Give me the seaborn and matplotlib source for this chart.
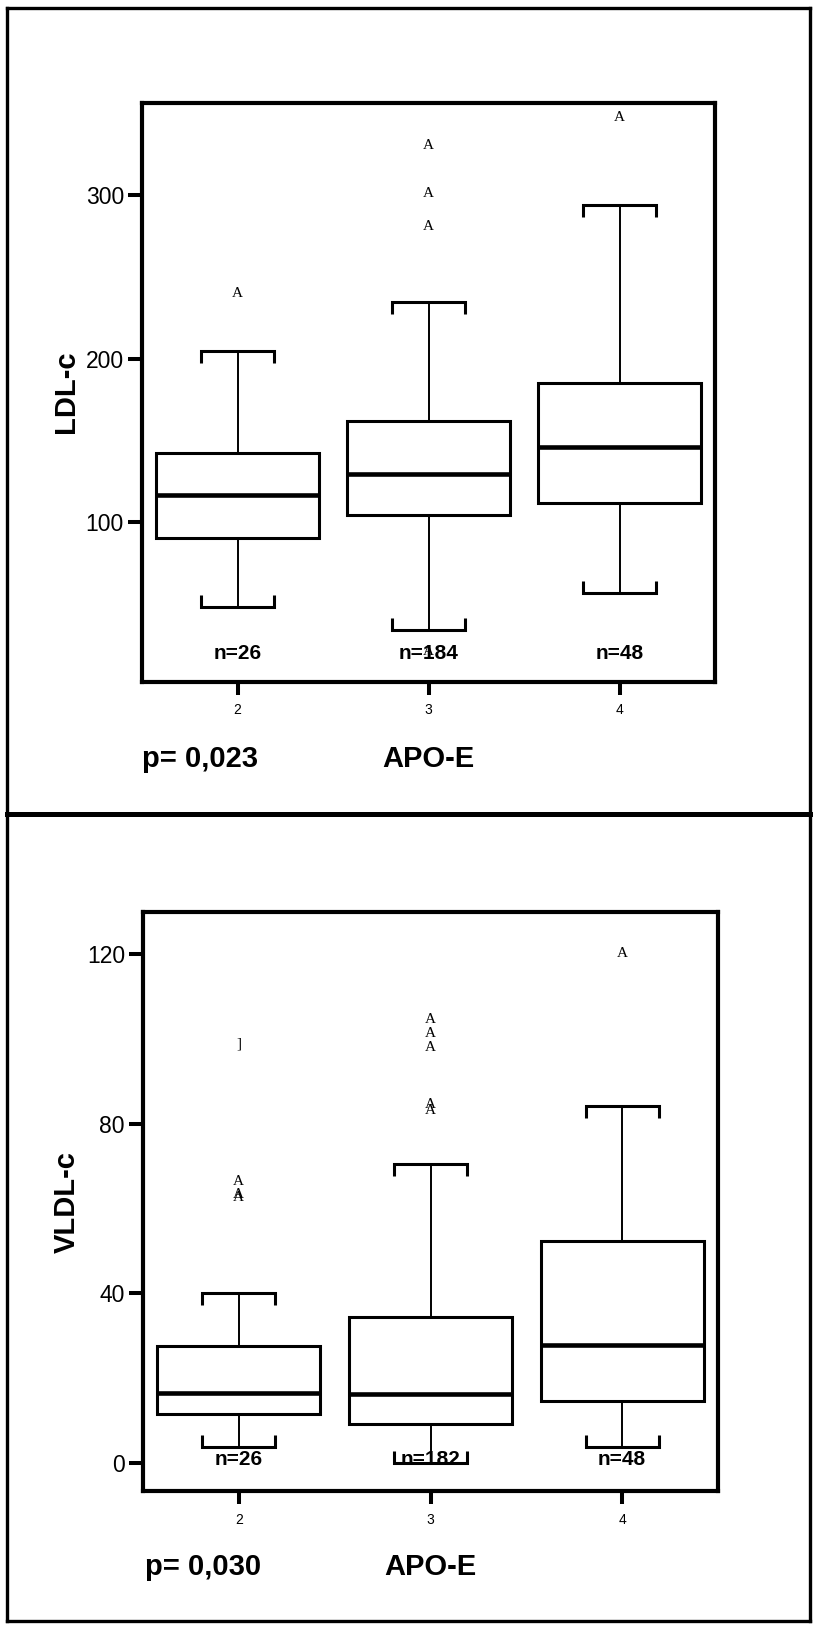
import numpy as np
import pandas as pd
import matplotlib
matplotlib.use("Agg")
import matplotlib.pyplot as plt
from matplotlib.lines import Line2D
import seaborn as sns

# APO-E genotype groups
groups = ["2", "3", "4"]

# LDL-c box statistics per group
ldl_low = [48.2, 33.9, 56.4]
ldl_q1 = [90.0, 104.3, 111.8]
ldl_median = [116.5, 129.2, 146.1]
ldl_q3 = [142.0, 161.8, 185.2]
ldl_high = [204.8, 234.7, 293.9]
ldl_outliers = [[239.9], [330.6, 301.1, 280.7, 20.7], [347.6]]
ldl_extremes = [[], [], []]
ldl_n = [26, 184, 48]

# VLDL-c box statistics per group
vldl_low = [3.7, 0.0, 3.7]
vldl_q1 = [11.6, 9.2, 14.6]
vldl_median = [16.4, 16.2, 27.9]
vldl_q3 = [27.5, 34.5, 52.4]
vldl_high = [40.2, 70.5, 84.2]
vldl_outliers = [[66.5, 63.4, 62.7], [104.7, 101.2, 98.0, 84.6, 83.1], [120.1]]
vldl_extremes = [[98.8], [], []]
vldl_n = [26, 182, 48]

sns.set_theme(style="ticks")
plt.rcParams["font.family"] = ["Liberation Sans", "DejaVu Sans"]
plt.rcParams["axes.edgecolor"] = "black"
plt.rcParams["xtick.color"] = "black"
plt.rcParams["ytick.color"] = "black"
plt.rcParams["text.color"] = "black"
plt.rcParams["axes.labelcolor"] = "black"

SERIF = ["Liberation Serif", "DejaVu Serif"]

W, H = 813, 1625
fig = plt.figure(figsize=(W / 100, H / 100), dpi=100)
fig.patch.set_facecolor("white")


def draw_panel(ax, low, q1, med, q3, high, outliers, extremes, counts,
               ylabel, pval, yticks, ylim, n_y, label_y, p_x):
    # five summary values per group; whiskers span min..max
    rows = []
    for g, vals in zip(groups, zip(low, q1, med, q3, high)):
        for v in vals:
            rows.append({"APO-E": g, "value": v})
    df = pd.DataFrame(rows)

    sns.boxplot(data=df, x="APO-E", y="value", order=groups, ax=ax,
                whis=(0, 100), width=0.85, color="white", linecolor="black",
                linewidth=2.2, showfliers=False,
                medianprops={"linewidth": 3.3},
                whiskerprops={"linewidth": 1.4},
                capprops={"linewidth": 2.2})

    ax.set_xlim(-0.5, 2.5)
    ax.set_ylim(*ylim)
    ax.set_yticks(yticks)
    ax.set_yticklabels([str(t) for t in yticks])

    # bracket-shaped whisker caps
    conts = [c for c in ax.containers if hasattr(c, "caps")]
    h_px = ax.get_position().height * fig.get_figheight() * fig.dpi
    dy = 12 * (ylim[1] - ylim[0]) / h_px
    hw = 0.19
    for cont in conts:
        for cap in cont.caps:
            xs = np.asarray(cap.get_xdata(), float)
            ys = np.asarray(cap.get_ydata(), float)
            xc = xs.mean()
            y = ys[0]
            i = int(round(xc))
            s = 1 if y <= med[i] else -1
            cap.set_data([xc - hw, xc - hw, xc + hw, xc + hw],
                         [y + s * dy, y, y, y + s * dy])
            cap.set_solid_joinstyle("miter")
            cap.set_solid_capstyle("butt")

    # outliers and extremes
    for i, vals in enumerate(outliers):
        for v in vals:
            ax.text(i, v, "A", ha="center", va="center", family=SERIF,
                    fontsize=11, zorder=5)
    for i, vals in enumerate(extremes):
        for v in vals:
            ax.text(i, v, "]", ha="center", va="center", family=SERIF,
                    fontsize=11, zorder=5)

    # group sizes
    for i, n in enumerate(counts):
        ax.text(i, n_y, f"n={n}", transform=ax.get_xaxis_transform(),
                ha="center", va="baseline", fontsize=15, fontweight="bold",
                zorder=6)

    for sp in ax.spines.values():
        sp.set_visible(True)
        sp.set_linewidth(3.0)
        sp.set_color("black")

    ax.tick_params(axis="y", length=10, width=2.9, labelsize=16.5, pad=3,
                   direction="out", left=True)
    ax.tick_params(axis="x", length=9, width=2.9, labelsize=10, pad=6.5,
                   direction="out", bottom=True)

    ax.set_ylabel(ylabel, fontsize=21, fontweight="bold")
    ax.yaxis.set_label_coords(-0.132, 0.5)
    ax.yaxis.label.set_va("center")

    ax.set_xlabel("APO-E", fontsize=21, fontweight="bold")
    ax.xaxis.set_label_coords(0.5, label_y)
    ax.xaxis.label.set_va("baseline")

    ax.text(p_x, label_y, pval, transform=ax.transAxes, ha="left",
            va="baseline", fontsize=21, fontweight="bold")
    ax.set_facecolor("white")
    ax.grid(False)


ax1 = fig.add_axes([142 / W, 1 - 681.7 / H, 573 / W, 579 / H])
draw_panel(ax1, ldl_low, ldl_q1, ldl_median, ldl_q3, ldl_high,
           ldl_outliers, ldl_extremes, ldl_n, "LDL-c", "p= 0,023",
           [100, 200, 300], (2.3, 356.5), 0.040, -0.148, 0.0)

ax2 = fig.add_axes([143 / W, 1 - 1491 / H, 575 / W, 578.7 / H])
draw_panel(ax2, vldl_low, vldl_q1, vldl_median, vldl_q3, vldl_high,
           vldl_outliers, vldl_extremes, vldl_n, "VLDL-c", "p= 0,030",
           [0, 40, 80, 120], (-6.6, 129.9), 0.045, -0.145, 0.003)

# outer frame and panel divider
def fline(x0, y0, x1, y1, lw):
    fig.add_artist(Line2D([x0 / W, x1 / W], [1 - y0 / H, 1 - y1 / H],
                          transform=fig.transFigure, color="black",
                          linewidth=lw, solid_capstyle="projecting"))

fline(7, 8, 810, 8, 2.4)
fline(7, 8, 7, 1621, 2.4)
fline(810, 8, 810, 1621, 2.4)
fline(7, 1621, 810, 1621, 2.4)
fline(7, 814, 810, 814, 3.6)

fig.savefig("out.png", dpi=100, facecolor="white")
